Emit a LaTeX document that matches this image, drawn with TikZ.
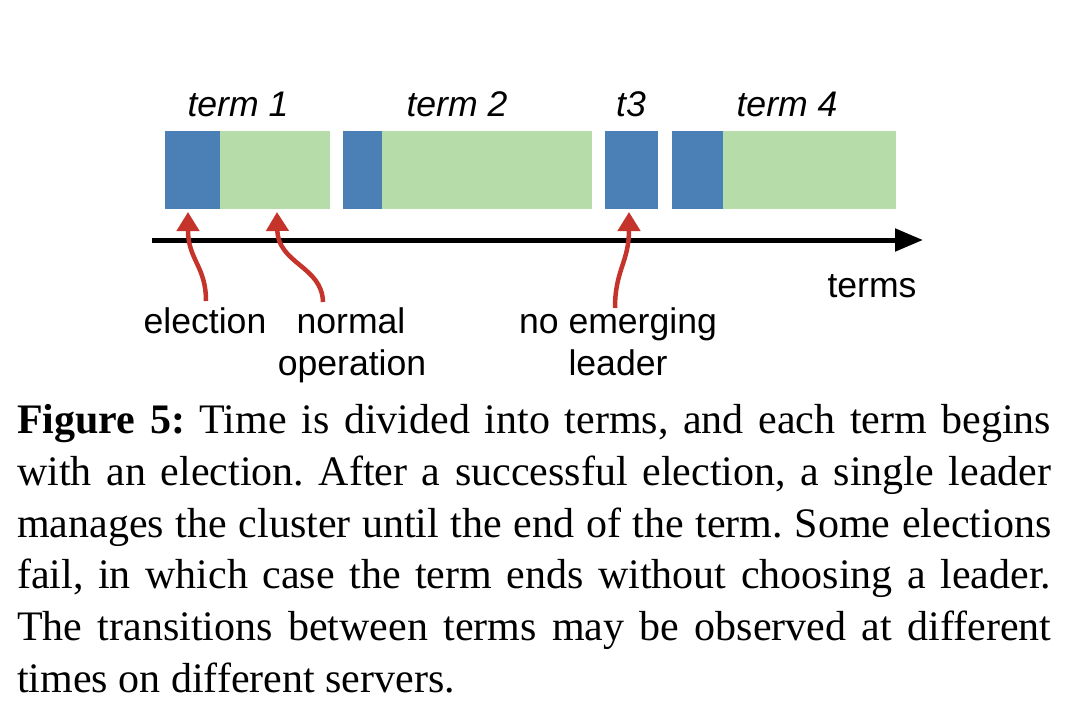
\documentclass[tikz,border=0pt]{standalone}
\usepackage{fontspec}
\setmainfont{Liberation Serif}
\newfontfamily\lsans{Liberation Sans}
\usetikzlibrary{arrows.meta}
\definecolor{elecblue}{HTML}{4A80B5}
\definecolor{normgreen}{HTML}{B6DCAA}
\definecolor{arrred}{HTML}{C5342B}
\tikzset{
  blk/.style={inner sep=0pt, outer sep=0pt, draw=none, anchor=north west, minimum height=78pt},
  eblk/.style={blk, fill=elecblue},
  nblk/.style={blk, fill=normgreen},
  dlabel/.style={inner sep=0pt, anchor=base, font=\lsans\fontsize{35.6}{42}\selectfont},
  tlabel/.style={dlabel, font=\lsans\itshape\fontsize{35.6}{42}\selectfont},
  caplabel/.style={inner sep=0pt, anchor=base west, font=\frenchspacing\fontsize{42}{51.8}\selectfont},
  redarrow/.style={draw=arrred, line width=4.5pt, -{Triangle[length=19pt,width=22pt]}},
  axisarrow/.style={draw=black, line width=5pt, -{Triangle[length=28pt,width=22pt]}}
}
\begin{document}
\frenchspacing
\begin{tikzpicture}[x=1pt,y=-1pt]
\fill[white] (0,0) rectangle (1088,720);
\useasboundingbox (0,0) rectangle (1088,720);
% term blocks
\node[eblk, minimum width=55pt] (e1) at (165,131) {};
\node[nblk, minimum width=110pt] (n1) at (220,131) {};
\node[eblk, minimum width=39pt] (e2) at (343,131) {};
\node[nblk, minimum width=210pt] (n2) at (382,131) {};
\node[eblk, minimum width=53pt] (e3) at (605,131) {};
\node[eblk, minimum width=51pt] (e4) at (672,131) {};
\node[nblk, minimum width=173pt] (n4) at (723,131) {};
% term labels
\node[tlabel] (t1) at (238,116) {term 1};
\node[tlabel] (t2) at (457,116) {term 2};
\node[tlabel] (t3) at (631,116) {t3};
\node[tlabel] (t4) at (787,116) {term 4};
% axis
\coordinate (axs) at (152,240);
\coordinate (axe) at (923,240);
\draw[axisarrow] (axs) -- (axe);
\node[dlabel] (terms) at (872,297) {terms};
% bottom labels
\node[dlabel] (lel) at (205,333) {election};
\node[dlabel] (lno1) at (351,333) {normal};
\node[dlabel] (lno2) at (352,375) {operation};
\node[dlabel] (lne1) at (618,333) {no emerging};
\node[dlabel] (lne2) at (618,375) {leader};
% arrow ends
\coordinate (a1s) at (206,301);
\coordinate (a1e) at (188,212);
\coordinate (a2s) at (323,302);
\coordinate (a2e) at (277,212);
\coordinate (a3s) at (615,308);
\coordinate (a3e) at (629,212);
\draw[redarrow] (a1s) .. controls (206,266) and (188,260) .. (a1e);
\draw[redarrow] (a2s) .. controls (322,266) and (278,264) .. (a2e);
\draw[redarrow] (a3s) .. controls (615,270) and (629,262) .. (a3e);
% caption
\node[caplabel] (c1) at (17,433) {\makebox[1034pt][s]{\textbf{Figure 5:} Time is divided into terms, and each term begins}};
\node[caplabel] (c2) at (17,485) {\makebox[1034pt][s]{with an election. After a successful election, a single leader}};
\node[caplabel] (c3) at (17,537) {\makebox[1034pt][s]{manages the cluster until the end of the term. Some elections}};
\node[caplabel] (c4) at (17,588) {\makebox[1034pt][s]{fail, in which case the term ends without choosing a leader.}};
\node[caplabel] (c5) at (17,640) {\makebox[1034pt][s]{The transitions between terms may be observed at different}};
\node[caplabel] (c6) at (17,692) {times on different servers.};
\end{tikzpicture}
\end{document}
